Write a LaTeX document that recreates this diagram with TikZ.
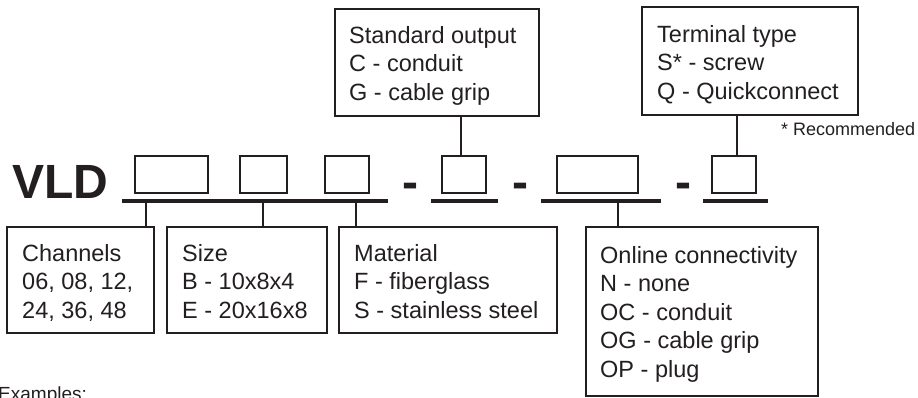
\documentclass[tikz,border=0pt]{standalone}
\usepackage{fontspec}
\setmainfont{Liberation Sans}
\definecolor{ink}{HTML}{231F20}
\begin{document}
\begin{tikzpicture}[x=1pt,y=-1pt,
  box/.style={draw=ink, line width=1.2pt, inner sep=0pt, outer sep=0pt, anchor=north west},
  codebox/.style={box, minimum height=37pt},
  bar/.style={draw=ink, line width=4.5pt},
  conn/.style={draw=ink, line width=1.1pt},
  txt/.style={font=\fontsize{23.5}{28.5}\selectfont, text=ink, inner sep=0pt, align=left, anchor=north west},
  big/.style={font=\bfseries\fontsize{48}{48}\selectfont, text=ink, inner sep=0pt},
  note/.style={font=\fontsize{18}{20}\selectfont, text=ink, inner sep=0pt, anchor=base west}]
\fill[white] (0,0) rectangle (918,397);
\useasboundingbox (0,0) rectangle (918,397);

% code line
\node[big, anchor=base west] (vld) at (12,198) {VLD};
\node[codebox, minimum width=73pt] (b1) at (135,156) {};
\node[codebox, minimum width=47pt] (b2) at (240,156) {};
\node[codebox, minimum width=44pt] (b3) at (325,156) {};
\node[codebox, minimum width=44pt] (b4) at (442,156) {};
\node[codebox, minimum width=81pt] (b5) at (557,156) {};
\node[codebox, minimum width=44pt] (b6) at (712,156) {};
\node[big, anchor=base] (d1) at (410.5,198) {-};
\node[big, anchor=base] (d2) at (520,198) {-};
\node[big, anchor=base] (d3) at (683,198) {-};

\draw[bar] (122,201) -- (388,201);
\draw[bar] (431,201) -- (498,201);
\draw[bar] (541,201) -- (661,201);
\draw[bar] (703,201) -- (768,201);

\coordinate (k1) at (146,201);
\coordinate (k2) at (263,201);
\coordinate (k3) at (356,201);
\coordinate (k5) at (618,201);
\coordinate (x4) at (461,0);
\coordinate (x6) at (737,0);

% upper boxes
\node[box, minimum width=204pt, minimum height=107pt] (so) at (335,9) {};
\node[txt] (soT) at (349,26) {Standard output\\C - conduit\\G - cable grip};
\node[box, minimum width=216pt, minimum height=108pt] (tt) at (642,7) {};
\node[txt] (ttT) at (657,25) {Terminal type\\S* - screw\\Q - Quickconnect};
\node[note] (rec) at (781,135) {* Recommended};

% lower boxes
\node[box, minimum width=147pt, minimum height=106pt] (ch) at (7,227) {};
\node[txt] (chT) at (22,244) {Channels\\06, 08, 12,\\24, 36, 48};
\node[box, minimum width=160pt, minimum height=106pt] (sz) at (167,227) {};
\node[txt] (szT) at (182,244) {Size\\B - 10x8x4\\E - 20x16x8};
\node[box, minimum width=218pt, minimum height=106pt] (mt) at (339,227) {};
\node[txt] (mtT) at (354,244) {Material\\F - fiberglass\\S - stainless steel};
\node[box, minimum width=232pt, minimum height=169pt] (ol) at (586,227) {};
\node[txt] (olT) at (600,246) {Online connectivity\\N - none\\OC - conduit\\OG - cable grip\\OP - plug};

\node[font=\fontsize{19}{22}\selectfont, text=ink, inner sep=0pt, anchor=base west] (ex) at (-2,400) {Examples:};

% connectors
\draw[conn] (k1) -- (ch.north -| k1);
\draw[conn] (k2) -- (sz.north -| k2);
\draw[conn] (k3) -- (mt.north -| k3);
\draw[conn] (k5) -- (ol.north -| k5);
\draw[conn] (so.south -| x4) -- (b4.north -| x4);
\draw[conn] (tt.south -| x6) -- (b6.north -| x6);
\end{tikzpicture}
\end{document}
